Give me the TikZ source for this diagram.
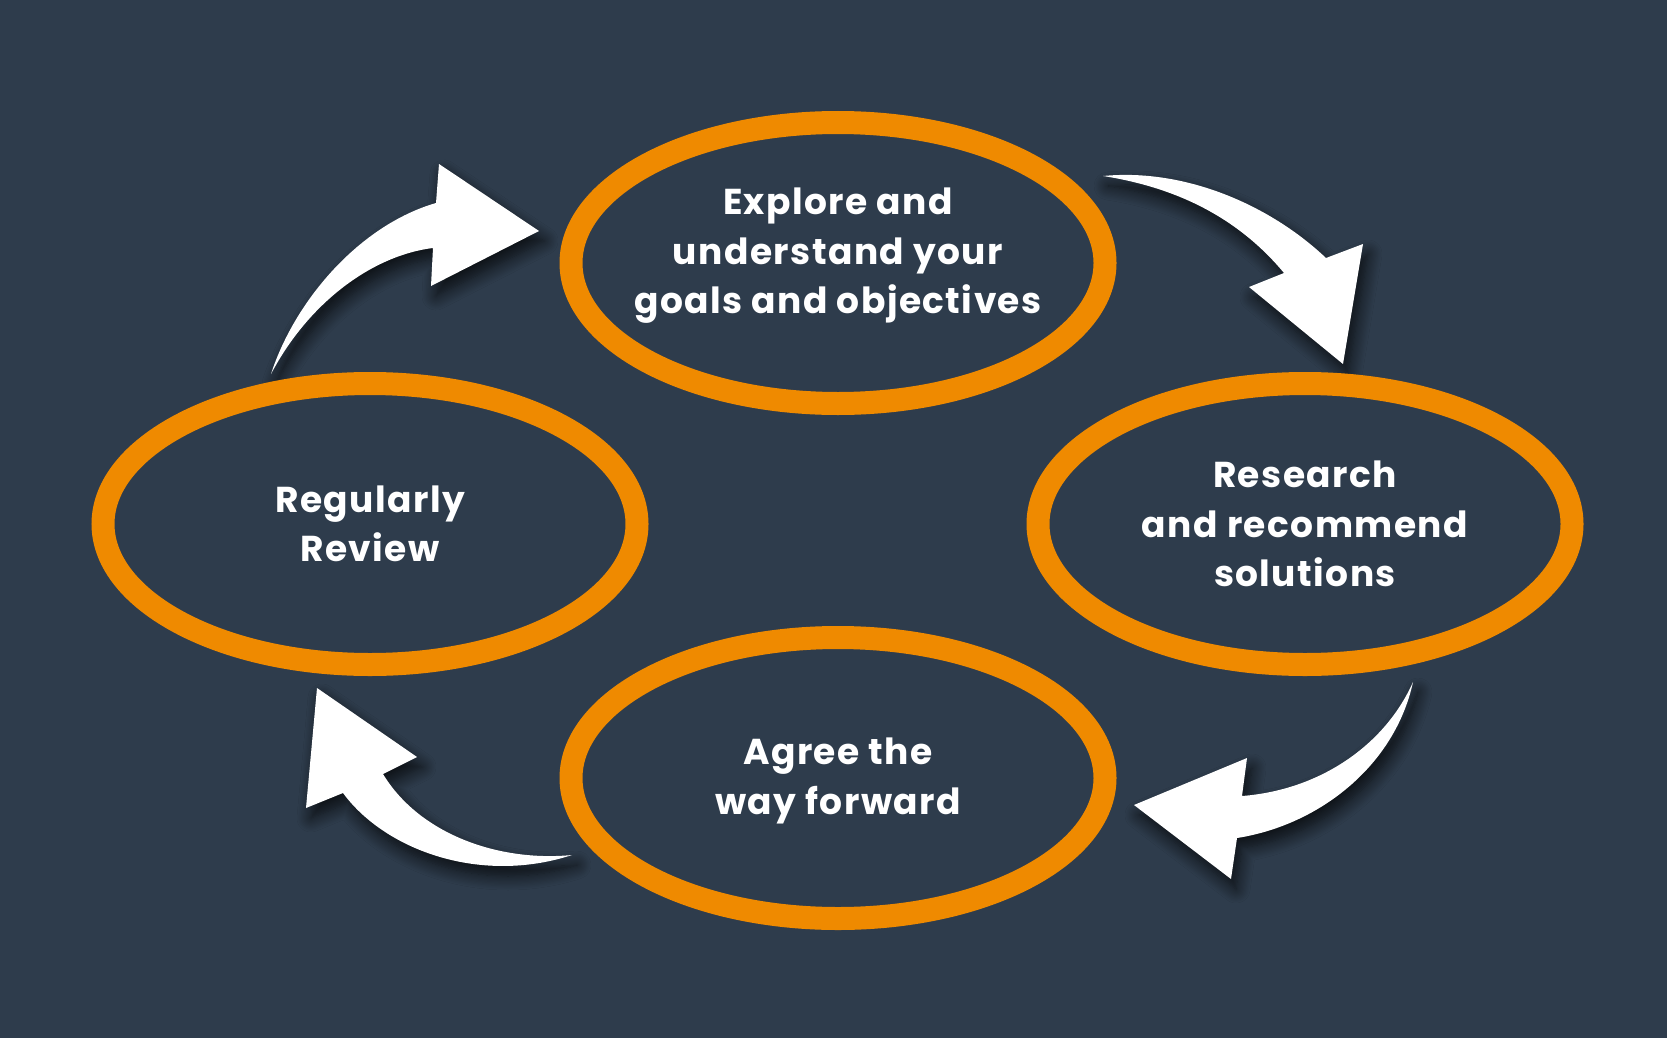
\documentclass[tikz,border=0pt]{standalone}
\usepackage{fontspec}
\setmainfont{Poppins}[LetterSpace=4]
\usetikzlibrary{shapes.geometric,shadows.blur}
\definecolor{bgc}{RGB}{46,60,76}
\definecolor{orng}{RGB}{239,138,0}
\tikzset{
  ring/.style={draw=orng, line width=23pt, fill=bgc, ellipse, minimum width=534pt, minimum height=281pt, inner sep=0pt},
  lbl/.style={text=white, align=center, font=\bfseries\fontsize{36}{49.5}\selectfont},
  curvedarrow/.style={fill=white, draw=none, blur shadow={shadow xshift=5pt, shadow yshift=-10pt, shadow blur radius=14pt, shadow opacity=75, shadow blur steps=12}}
}
\begin{document}
\begin{tikzpicture}[x=1pt,y=-1pt]
\fill[bgc] (0,0) rectangle (1667,1038);
\useasboundingbox (0,0) rectangle (1667,1038);
% arrows
\fill[curvedarrow] (271,374) .. controls (295,300) and (360,225) .. (436,203)
  -- (439,164) -- (539,231) -- (431,286) -- (433,248)
  .. controls (375,255) and (310,300) .. (271,374) -- cycle;
\fill[curvedarrow] (1103,176) .. controls (1185,168) and (1270,205) .. (1326,258)
  -- (1363,244) -- (1343,364) -- (1249,287) -- (1284,273)
  .. controls (1240,220) and (1180,188) .. (1103,176) -- cycle;
\fill[curvedarrow] (1413,682) .. controls (1385,745) and (1320,790) .. (1242,796)
  -- (1247,758) -- (1134,805) -- (1231,879) -- (1237,838)
  .. controls (1320,825) and (1395,765) .. (1413,682) -- cycle;
\fill[curvedarrow] (572,855) .. controls (500,862) and (420,835) .. (383,774)
  -- (417,757) -- (317,688) -- (306,808) -- (343,793)
  .. controls (385,850) and (480,885) .. (572,855) -- cycle;
% ellipses
\node[ring] (e1) at (838,263) {};
\node[ring] (e2) at (1305,524) {};
\node[ring] (e3) at (838,778) {};
\node[ring] (e4) at (370,524) {};
\node[lbl] (t1) at (838,256) {Explore and\\understand your\\goals and objectives};
\node[lbl] (t2) at (1305,524) {Research\\and recommend\\solutions};
\node[lbl] (t3) at (838,781) {Agree the\\way forward};
\node[lbl] (t4) at (370,524) {Regularly\\Review};
\end{tikzpicture}
\end{document}
